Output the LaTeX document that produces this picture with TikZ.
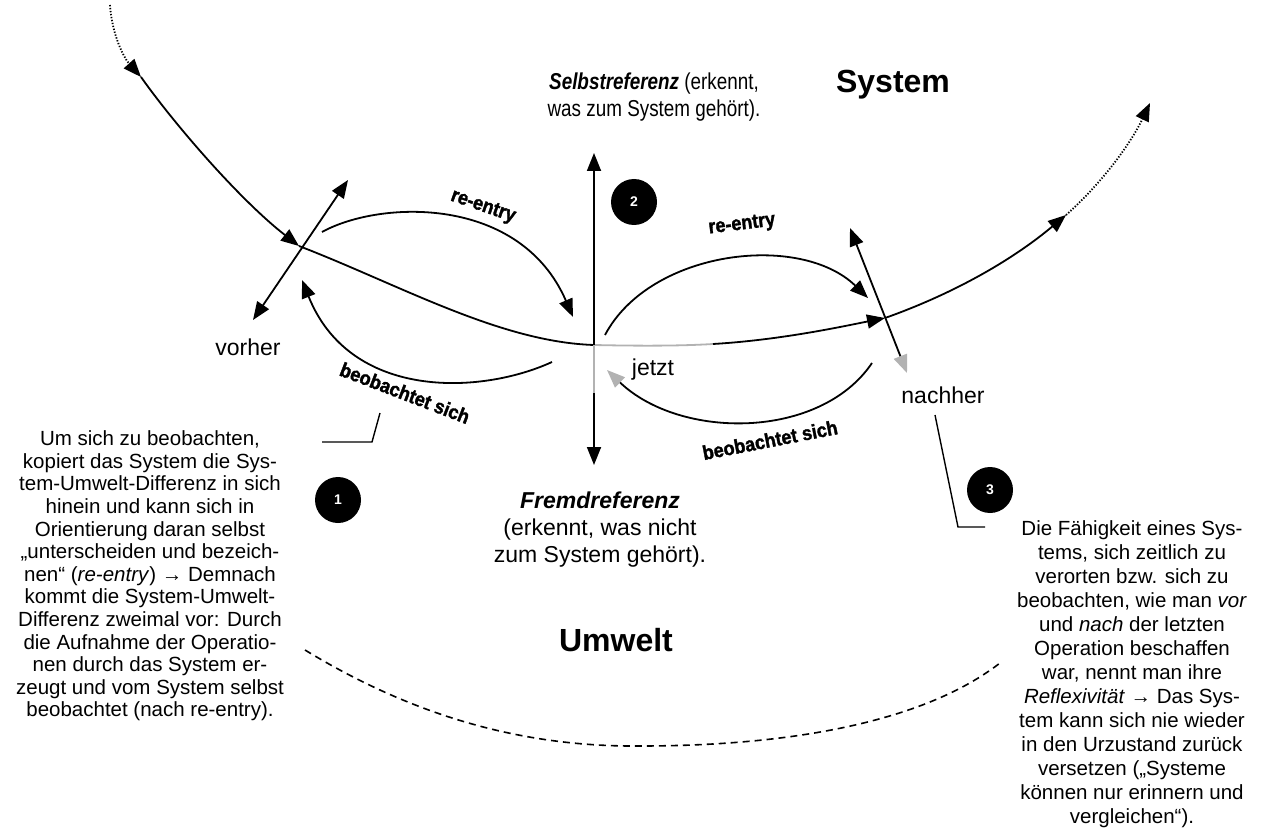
\documentclass[tikz,border=0pt]{standalone}
\usepackage{fontspec}
\setmainfont{Liberation Sans}
\newfontfamily\wordart[FakeStretch=0.9,FakeBold=1.6]{Liberation Sans}
\newfontfamily\narrowsans[FakeStretch=0.82]{Liberation Sans}
\usetikzlibrary{arrows.meta}

\tikzset{
  conn/.style={line width=1.8pt, black},
  tipend/.style={-{Triangle[length=18pt,width=14pt]}},
  tipboth/.style={{Triangle[length=18pt,width=14pt]}-{Triangle[length=18pt,width=14pt]}},
  dotline/.style={line width=1.8pt, dash pattern=on 1.3pt off 1.7pt},
  grayline/.style={line width=1.8pt, gray!60},
  leader/.style={line width=1.4pt},
  numdot/.style={circle, fill=black, minimum size=46pt, inner sep=0pt,
    text=white, font=\bfseries\fontsize{14}{14}\selectfont},
  title/.style={font=\bfseries\fontsize{32}{36}\selectfont, inner sep=0pt},
  lbl/.style={font=\fontsize{23}{27}\selectfont, inner sep=0pt, align=center},
  sidetext/.style={font=\fontsize{20.5}{#1}\selectfont, inner sep=0pt, align=center},
  arclabel/.style={font=\wordart\bfseries\fontsize{20}{20}\selectfont, inner sep=0pt, rotate=#1}
}

\begin{document}
\begin{tikzpicture}[x=1pt,y=-1pt]
\useasboundingbox (0,0) rectangle (1283,829);

% points on the time line
\coordinate (t0) at (110,5);
\coordinate (t1) at (141,77);
\coordinate (vx) at (299,246);
\coordinate (jx) at (594,345);
\coordinate (jg) at (713,344);
\coordinate (nx) at (885,318);
\coordinate (t5) at (1066,215);
\coordinate (t6) at (1150,103);

% ends of the double arrows
\coordinate (vA) at (253,320);
\coordinate (vB) at (348,180);
\coordinate (nA) at (850,228);
\coordinate (nB) at (907,373);
\coordinate (cTop) at (594,153);
\coordinate (cBot) at (594,465);
\coordinate (cg) at (594,393);

% titles
\node[title] (sys) at (893,85) {System};
\node[title] (umw) at (616,640) {Umwelt};

% reference labels
\node[lbl, font=\narrowsans\fontsize{23}{27}\selectfont] (selbst) at (654,97)
  {\textbf{\textit{Selbstreferenz}} (erkennt,\\was zum System gehört).};
\node[lbl] (fremd) at (600,530) {\textbf{\textit{Fremdreferenz}}\\(erkennt, was nicht\\zum System gehört).};

\node[lbl] (vorher) at (248,347) {vorher};
\node[lbl] (jetzt) at (653,370) {jetzt};
\node[lbl] (nachher) at (943,395) {nachher};

% numbered markers
\node[numdot] (n1) at (338,500) {1};
\node[numdot] (n2) at (634,202) {2};
\node[numdot] (n3) at (990,490) {3};

% time line
\draw[dotline, -{Triangle[length=18pt,width=14pt]}] (t0) .. controls (112,35) and (124,58) .. (t1);
\draw[conn, tipend] (t1) .. controls (175,125) and (240,200) .. (vx);
\draw[conn] (vx) .. controls (400,285) and (500,342) .. (jx);
\draw[grayline] (jx) .. controls (640,346) and (680,346) .. (jg);
\draw[conn, tipend] (jg) .. controls (780,340) and (840,327) .. (nx);
\draw[conn, tipend] (nx) .. controls (950,295) and (1010,262) .. (t5);
\draw[dotline, -{Triangle[length=18pt,width=14pt]}] (t5) .. controls (1100,185) and (1130,145) .. (t6);

% vorher / jetzt / nachher axes
\draw[conn, tipboth] (vA) -- (vB);
\draw[conn, tipboth] (cTop) -- (cBot);
\draw[grayline] (jx) -- (cg);
\draw[conn, {Triangle[length=18pt,width=14pt]}-{Triangle[length=18pt,width=14pt,color=gray!60]}] (nA) -- (nB);

% re-entry arcs
\coordinate (rL0) at (322,232);
\coordinate (rL1) at (573,317);
\coordinate (rR0) at (605,335);
\coordinate (rR1) at (868,298);
\draw[conn, tipend] (rL0) .. controls (380,200) and (520,195) .. (rL1);
\draw[conn, tipend] (rR0) .. controls (650,250) and (800,232) .. (rR1);

% self-observation arcs
\coordinate (bL0) at (552,362);
\coordinate (bL1) at (302,280);
\coordinate (bR0) at (872,363);
\coordinate (bR1) at (607,370);
\draw[conn, tipend] (bL0) .. controls (480,395) and (350,400) .. (bL1);
\draw[conn, -{Triangle[length=18pt,width=14pt,color=gray!60]}] (bR0) .. controls (820,440) and (680,440) .. (bR1);

% labels of the arcs
\node[arclabel=-19] (reL) at (483,207) {re-entry};
\node[arclabel=7] (reR) at (742,225) {re-entry};
\node[arclabel=-21] (boL) at (405,393) {beobachtet sich};
\node[arclabel=11] (boR) at (770,440) {beobachtet sich};

% leader lines
\coordinate (lL0) at (380,413);
\coordinate (lL1) at (372,442);
\coordinate (lL2) at (322,442);
\draw[leader] (lL0) -- (lL1) -- (lL2);
\coordinate (lR0) at (935,415);
\coordinate (lR1) at (958,527);
\coordinate (lR2) at (985,527);
\draw[leader] (lR0) -- (lR1) -- (lR2);

% border of the environment
\coordinate (u0) at (305,650);
\coordinate (u1) at (640,746);
\coordinate (u2) at (1000,663);
\draw[line width=1.6pt, dash pattern=on 7pt off 5pt]
  (u0) .. controls (420,720) and (530,747) .. (u1)
       .. controls (780,746) and (920,725) .. (u2);

% explanations
\node[sidetext=22.6] (expl1) at (150,576) {Um sich zu beobachten,\\kopiert das System die Sys-\\tem-Umwelt-Differenz in sich\\hinein und kann sich in\\Orientierung daran selbst\\„unterscheiden und bezeich-\\nen“ (\textit{re-entry}) → Demnach\\kommt die System-Umwelt-\\Differenz zweimal vor: Durch\\die Aufnahme der Operatio-\\nen durch das System er-\\zeugt und vom System selbst\\beobachtet (nach re-entry).};
\node[sidetext=24] (expl3) at (1132,674) {Die Fähigkeit eines Sys-\\tems, sich zeitlich zu\\verorten bzw. sich zu\\beobachten, wie man \textit{vor}\\und \textit{nach} der letzten\\Operation beschaffen\\war, nennt man ihre\\\textit{Reflexivität} → Das Sys-\\tem kann sich nie wieder\\in den Urzustand zurück\\versetzen („Systeme\\können nur erinnern und\\vergleichen“).};
\end{tikzpicture}
\end{document}
